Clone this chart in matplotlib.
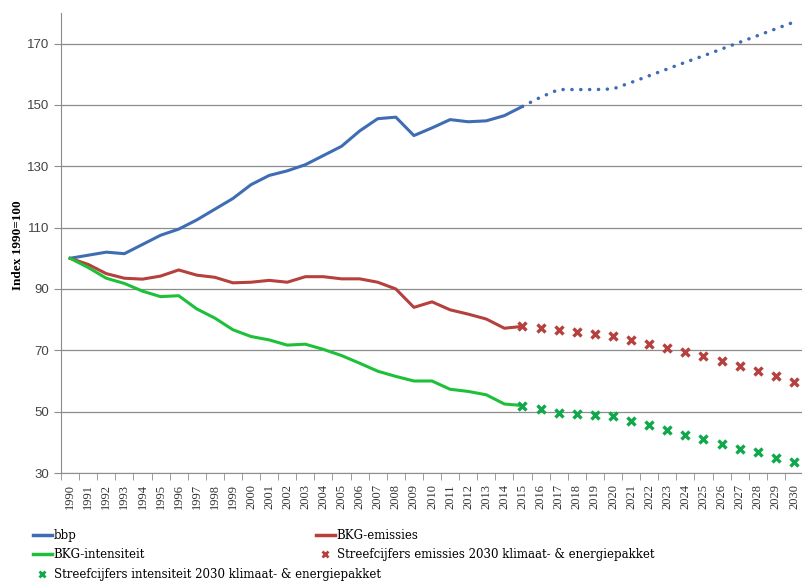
import numpy as np
import matplotlib
matplotlib.use("Agg")
import matplotlib.pyplot as plt
from matplotlib.lines import Line2D

years = list(range(1990, 2031))

# historical series (1990-2015)
bbp_hist = [100, 101, 102, 101.5, 104.5, 107.5, 109.5, 112.5, 116, 119.5,
            124, 127, 128.5, 130.5, 133.5, 136.5, 141.5, 145.5, 146, 140,
            142.5, 145.2, 144.5, 144.8, 146.5, 149.5]
bkg_emissies = [100, 98, 95, 93.5, 93.2, 94.2, 96.2, 94.5, 93.8, 92,
                92.2, 92.8, 92.2, 94, 94, 93.3, 93.3, 92.2, 90, 84,
                85.8, 83.2, 81.8, 80.2, 77.2, 77.8]
bkg_intensiteit = [100, 97, 93.5, 91.8, 89.3, 87.5, 87.8, 83.5, 80.5, 76.7,
                   74.5, 73.4, 71.7, 72, 70.3, 68.3, 65.8, 63.2, 61.5, 60,
                   60, 57.3, 56.6, 55.5, 52.5, 52]

# projections / targets (2015-2030)
bbp_proj = [149.5, 152.5, 155, 155, 155, 155.2, 157.3, 159.5, 161.7, 163.9,
            166, 168.2, 170.4, 172.6, 174.8, 177]
streef_emissies = [78, 77.3, 76.6, 76, 75.2, 74.8, 73.5, 72.2, 70.8, 69.5,
                   68.2, 66.5, 64.8, 63.2, 61.5, 59.8]
streef_intensiteit = [52, 50.8, 49.5, 49.2, 49, 48.6, 46.8, 45.5, 44, 42.4,
                      41, 39.5, 37.8, 36.7, 35, 33.6]

blue = "#3F6DB3"
red = "#B5403D"
green = "#1EC03A"
green_m = "#0FA84A"

fig = plt.figure(figsize=(8.03, 5.84), dpi=100)
ax = fig.add_axes([0.076, 0.19, 0.924, 0.788])

x = np.arange(len(years))
n_hist = len(bbp_hist)
x_hist = x[:n_hist]
x_proj = x[n_hist - 1:]

ax.plot(x_hist, bbp_hist, color=blue, lw=2.2, solid_capstyle="round")
ax.plot(x_proj, bbp_proj, color=blue, lw=2.5, linestyle=(0, (0.05, 2.5)),
        dash_capstyle="round")
ax.plot(x_hist, bkg_emissies, color=red, lw=2.2)
ax.plot(x_hist, bkg_intensiteit, color=green, lw=2.2)
ax.plot(x_proj, streef_emissies, linestyle="none", marker="x", ms=6, mew=2.4,
        color=red)
ax.plot(x_proj, streef_intensiteit, linestyle="none", marker="x", ms=6, mew=2.4,
        color=green_m)

ax.set_ylim(30, 180)
ax.set_yticks(range(30, 180, 20))
ax.set_xlim(-0.5, len(years) - 0.5)
ax.yaxis.grid(True, color="#8c8c8c", lw=0.9)
ax.set_axisbelow(True)

for s in ["top", "right"]:
    ax.spines[s].set_visible(False)
ax.spines["left"].set_color("#8c8c8c")
ax.spines["bottom"].set_color("#8c8c8c")

ax.set_xticks(x)
ax.set_xticklabels([str(y) for y in years], rotation=90, family="Liberation Serif",
                   fontsize=9, color="#333333")
ax.set_xticks(np.arange(-0.5, len(years)), minor=True)
ax.tick_params(axis="x", which="major", length=0, pad=8)
ax.tick_params(axis="x", which="minor", length=5, color="#8c8c8c", direction="out")
ax.tick_params(axis="y", length=5, color="#8c8c8c", labelsize=9.5, labelcolor="#444444")
for lbl in ax.get_yticklabels():
    lbl.set_family("Liberation Sans")

fig.text(18 / 803, 1 - 245 / 584, "Index 1990=100", rotation=90, ha="center",
         va="center", family="Liberation Serif", fontweight="bold", fontsize=9.5)

leg_kw = dict(frameon=False, prop={"family": "DejaVu Serif", "size": 8.5},
              handlelength=1.6, handletextpad=0.15, labelspacing=0.55,
              borderaxespad=0, borderpad=0)
h1 = [Line2D([], [], color=blue, lw=2.5),
      Line2D([], [], color=green, lw=2.5),
      Line2D([], [], color=green_m, marker="x", ms=5, mew=2, linestyle="none")]
l1 = ["bbp", "BKG-intensiteit", "Streefcijfers intensiteit 2030 klimaat- & energiepakket"]
fig.legend(h1, l1, loc="upper left", bbox_to_anchor=(33 / 803, 1 - 529 / 584), **leg_kw)
h2 = [Line2D([], [], color=red, lw=2.5),
      Line2D([], [], color=red, marker="x", ms=5, mew=2, linestyle="none")]
l2 = ["BKG-emissies", "Streefcijfers emissies 2030 klimaat- & energiepakket"]
fig.legend(h2, l2, loc="upper left", bbox_to_anchor=(316 / 803, 1 - 529 / 584), **leg_kw)

fig.savefig("out.png", dpi=100)
